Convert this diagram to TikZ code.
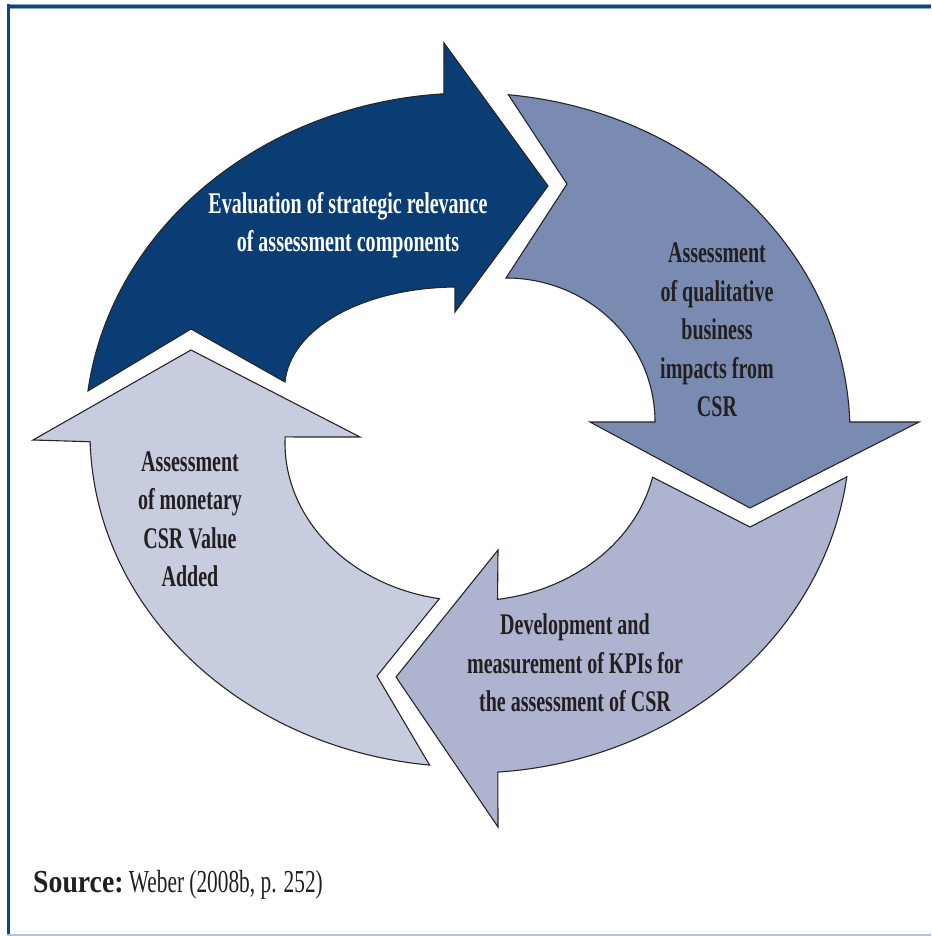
\documentclass[tikz,border=0pt]{standalone}
\usepackage{fontspec}
\usepackage{graphicx}
\setmainfont{Liberation Serif}[FakeStretch=0.667]
\usetikzlibrary{calc}
\definecolor{arrTop}{HTML}{0B3D75}
\definecolor{arrRight}{HTML}{7A8BB1}
\definecolor{arrBottom}{HTML}{AEB3D0}
\definecolor{arrLeft}{HTML}{C7CCDE}
\definecolor{frameDark}{HTML}{0D4783}
\definecolor{frameLight}{HTML}{8FA8C8}
\definecolor{frameBottom}{HTML}{B3C2D6}
\definecolor{txtdark}{HTML}{231F20}
\begin{document}
\begin{tikzpicture}[x=1pt,y=-1pt,
  arrowshape/.style={draw=black!85, line width=1.1pt, line join=miter},
  lbl/.style={align=center, inner sep=0pt, font=\bfseries\fontsize{30}{38.5}\selectfont, text=txtdark}]
\useasboundingbox (0,0) rectangle (931,936);
\fill[white] (0,0) rectangle (931,936);
% frame
\fill[frameLight] (7,4) rectangle (931,9.5);
\fill[frameDark] (7,5.2) rectangle (931,8.4);
\fill[frameDark] (6.7,4) rectangle (10,935);
\draw[frameBottom, line width=1.2pt] (7,935) -- (931,935);
% ellipse centres
\coordinate (Co) at (470,433);
\coordinate (Ci) at (471,443);
% top arrow
\filldraw[arrowshape, fill=arrTop]
  ($(Co)+(172.9:385pt and 340pt)$) arc[start angle=172.9, end angle=93.9, x radius=385pt, y radius=340pt]
  -- (444,43) -- (548,186) -- (455,312) -- (455,287)
  .. controls (360,288) and (290,330) .. (285,382) -- (191,329) -- cycle;
% right arrow
\filldraw[arrowshape, fill=arrRight]
  ($(Co)+(84.2:380pt and 340pt)$) arc[start angle=84.2, end angle=1.86, x radius=380pt, y radius=340pt]
  -- (919,422) -- (750,508) -- (590,422) -- (655,422)
  .. controls (655,342) and (588,278) .. (506,278)
  -- (567,184) -- cycle;
% bottom arrow
\filldraw[arrowshape, fill=arrBottom]
  ($(Co)+(-7.4:380pt and 340pt)$) arc[start angle=-7.4, end angle=-85.8, x radius=380pt, y radius=340pt]
  -- (498,827) -- (396,677) -- (498,550)
  -- ($(Ci)+(-81.8:186pt and 158pt)$) arc[start angle=-81.8, end angle=-12.5, x radius=186pt, y radius=158pt]
  -- (750,527) -- cycle;
% left arrow
\filldraw[arrowshape, fill=arrLeft]
  ($(Co)+(263.9:380pt and 334pt)$) arc[start angle=263.9, end angle=181.5, x radius=380pt, y radius=334pt]
  -- (33,440) -- (191,350) -- (360,437)
  -- ($(Ci)+(177.8:186pt and 158pt)$) arc[start angle=177.8, end angle=260.2, x radius=186pt, y radius=158pt]
  -- (377,676) -- cycle;
% labels
\node[lbl, text=white] (t1) at (348,225) {Evaluation of strategic relevance\\of assessment components};
\node[lbl] (t2) at (717,330) {Assessment\\of qualitative\\business\\impacts from\\CSR};
\node[lbl] (t3) at (575,663) {Development and\\measurement of KPIs for\\the assessment of CSR};
\node[lbl] (t4) at (190,519) {Assessment\\of monetary\\CSR Value\\Added};
\node[anchor=base west, inner sep=0pt, font=\fontsize{32}{38}\selectfont, text=txtdark] (src) at (33,892) {\scalebox{1.3}[1]{\textbf{Source:}} Weber (2008b, p. 252)};
\end{tikzpicture}
\end{document}
